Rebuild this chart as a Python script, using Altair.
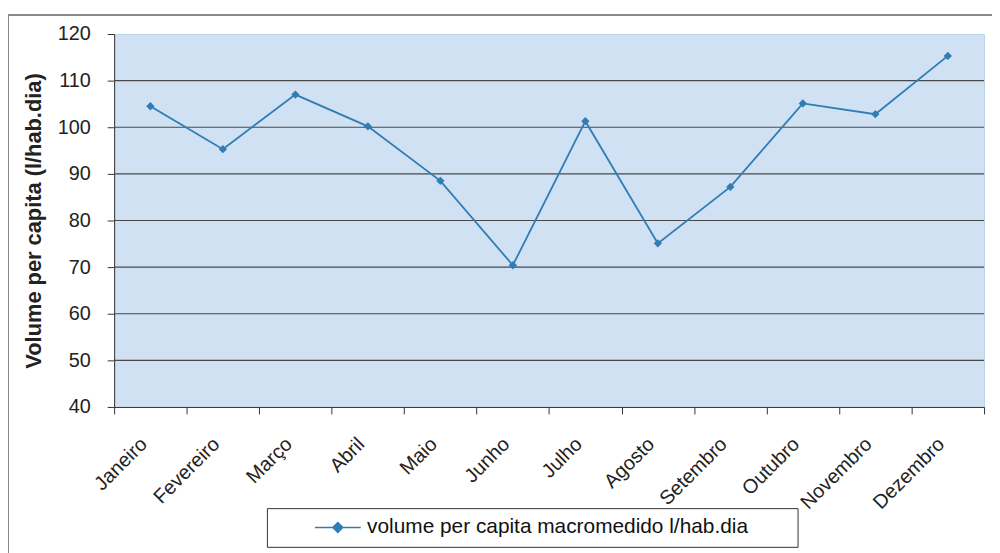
import altair as alt
import pandas as pd

months = ["Janeiro", "Fevereiro", "Março", "Abril", "Maio", "Junho", "Julho",
          "Agosto", "Setembro", "Outubro", "Novembro", "Dezembro"]
values = [104.5, 95.3, 107.0, 100.2, 88.5, 70.4, 101.3, 75.1, 87.2, 105.1, 102.8, 115.3]
grid_values = [50, 60, 70, 80, 90, 100, 110]
y_ticks = [40, 50, 60, 70, 80, 90, 100, 110, 120]
series_name = "volume per capita macromedido l/hab.dia"

df = pd.DataFrame({"mes": months, "valor": values, "serie": [series_name] * len(months)})
gdf = pd.DataFrame({"g": grid_values})

LINE = "#2f7db3"
FONT = "Liberation Sans"

x_enc = alt.X("mes:N", sort=months, title=None,
              scale=alt.Scale(paddingInner=0, paddingOuter=0),
              axis=alt.Axis(labelAngle=-45, labelFontSize=20, labelColor="#222",
                            domainColor="#333", tickColor="#333", tickSize=7,
                            tickBand="extent", labelPadding=20, labelOffset=-14,
                            grid=False))
y_scale = alt.Scale(domain=[40, 120], nice=False, zero=False)
y_enc = alt.Y("valor:Q", scale=y_scale, title="Volume per capita (l/hab.dia)",
              axis=alt.Axis(values=y_ticks, labelFontSize=20, labelColor="#222",
                            titleFontSize=22, titleFontWeight="bold", titleColor="#222",
                            domainColor="#333", tickColor="#333", tickSize=7,
                            labelPadding=17, titlePadding=12, grid=False))

frame = alt.Chart(gdf).mark_rule(color="#8a8a8a", strokeWidth=1.2).encode(
    x=alt.value(-107), x2=alt.value(890), y=alt.value(-19)
)
frame_left = alt.Chart(gdf).mark_rule(color="#8a8a8a", strokeWidth=1.2).encode(
    x=alt.value(-107), y=alt.value(-19), y2=alt.value(545)
)

grid = alt.Chart(gdf).mark_rule(color="#4a4a4a", strokeWidth=1.2).encode(
    y=alt.Y("g:Q", scale=y_scale)
)

pad_label = "\u00a0" * 7 + "\u200b"

line = alt.Chart(df).mark_line(strokeWidth=1.8).encode(
    x=x_enc, y=y_enc,
    color=alt.Color("serie:N", scale=alt.Scale(range=[LINE]),
                    legend=alt.Legend(
                        title=None, orient="none", legendX=154, legendY=478,
                        symbolType="M-3.3,0H3.3M0,-0.7L0.7,0L0,0.7L-0.7,0Z",
                        symbolSize=196, symbolStrokeWidth=1.6,
                        symbolFillColor=LINE, symbolStrokeColor=LINE,
                        symbolOffset=52, labelOffset=19,
                        labelFontSize=21, labelColor="#111", labelFont=FONT,
                        labelLimit=0, padding=9, strokeColor="#333",
                        labelExpr="datum.label + '" + pad_label + "'"))
)
points = alt.Chart(df).mark_point(shape="diamond", filled=True, size=70, color=LINE, opacity=1).encode(
    x=alt.X("mes:N", sort=months), y=alt.Y("valor:Q", scale=y_scale)
)

chart = alt.layer(frame, frame_left, grid, line, points).properties(
    width=877, height=376,
    autosize=alt.AutoSizeParams(type="none"),
    padding={"left": 107, "top": 24, "right": 8, "bottom": 145},
).configure(font=FONT).configure_view(
    fill="#cfe1f3", stroke="#b9d3ea", strokeWidth=1
)

chart.save("out.html", embed_options={"renderer": "svg", "actions": False})
